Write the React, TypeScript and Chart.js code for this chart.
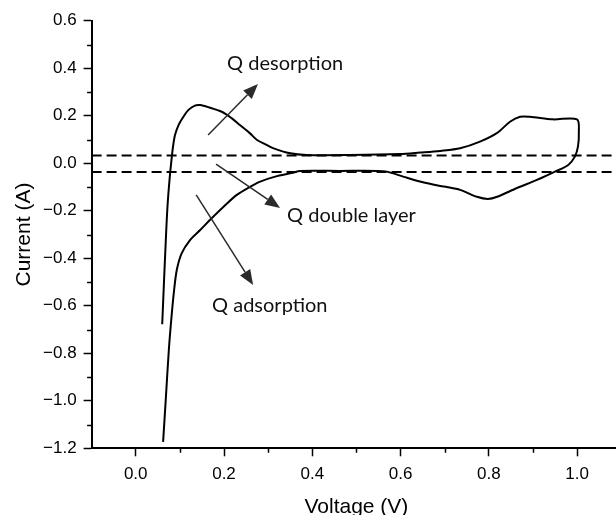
import { useEffect, useRef } from "react";
import { Chart, registerables } from "chart.js";

Chart.register(...registerables);

// Cyclic voltammogram: one closed sweep (anodic branch on top, cathodic below)
const VOLTAGE = [
  0.060, 0.064, 0.068, 0.072, 0.077, 0.082, 0.085, 0.089, 0.097, 0.108,
  0.119, 0.134, 0.146, 0.165, 0.195, 0.218, 0.236, 0.259, 0.275, 0.293,
  0.311, 0.350, 0.387, 0.486, 0.599, 0.644, 0.690, 0.735, 0.780, 0.819,
  0.848, 0.871, 0.893, 0.945, 1.000, 1.004, 1.002, 0.995, 0.980, 0.950,
  0.909, 0.864, 0.819, 0.798, 0.773, 0.735, 0.705, 0.690, 0.644, 0.606,
  0.569, 0.547, 0.463, 0.372, 0.356, 0.316, 0.282, 0.259, 0.229, 0.199,
  0.168, 0.146, 0.123, 0.104, 0.093, 0.087, 0.081, 0.075, 0.068, 0.062,
];
const CURRENT = [
  -0.678, -0.500, -0.330, -0.180, -0.060, 0.031, 0.077, 0.119, 0.161, 0.196,
  0.224, 0.243, 0.245, 0.236, 0.217, 0.189, 0.161, 0.126, 0.098, 0.081,
  0.064, 0.042, 0.035, 0.035, 0.039, 0.045, 0.052, 0.063, 0.091, 0.128,
  0.175, 0.196, 0.196, 0.185, 0.185, 0.128, 0.070, 0.028, -0.007, -0.035,
  -0.070, -0.104, -0.141, -0.150, -0.141, -0.112, -0.100, -0.096, -0.077, -0.056,
  -0.035, -0.032, -0.032, -0.032, -0.040, -0.056, -0.077, -0.099, -0.133, -0.183,
  -0.239, -0.281, -0.323, -0.379, -0.449, -0.533, -0.648, -0.786, -0.996, -1.173,
];

// Double-layer charging baselines
const BASELINE_UPPER = 0.033;
const BASELINE_LOWER = -0.037;

const X_MIN = -0.1;
const X_MAX = 1.1;
const Y_MIN = -1.2;
const Y_MAX = 0.6;
const X_TICKS = [0.0, 0.2, 0.4, 0.6, 0.8, 1.0];
const X_MINOR = [0.1, 0.3, 0.5, 0.7, 0.9];
const Y_TICKS = [-1.2, -1.0, -0.8, -0.6, -0.4, -0.2, 0.0, 0.2, 0.4, 0.6];
const Y_MINOR = [-1.1, -0.9, -0.7, -0.5, -0.3, -0.1, 0.1, 0.3, 0.5];

// Charge-region labels and their pointer arrows (in voltage / current units)
const LABEL_TEXT = ["Q desorption", "Q double layer", "Q adsorption"];
const LABEL_V = [0.207, 0.343, 0.173];
const LABEL_I = [0.419, -0.218, -0.597];
const ARROW_FROM_V = [0.164, 0.182, 0.137];
const ARROW_FROM_I = [0.119, -0.003, -0.133];
const ARROW_TO_V = [0.277, 0.327, 0.266];
const ARROW_TO_I = [0.334, -0.188, -0.512];

const fmt = (v: number) => (v < 0 ? "\u2212" + Math.abs(v).toFixed(1) : v.toFixed(1));

const decorations = {
  id: "decorations",
  afterDraw(chart: any) {
    const { ctx, scales } = chart;
    const xs = scales.x;
    const ys = scales.y;
    ctx.save();
    // minor ticks
    ctx.strokeStyle = "#000";
    ctx.lineWidth = 1.5;
    ctx.beginPath();
    X_MINOR.forEach((v) => {
      const px = Math.round(xs.getPixelForValue(v)) + 0.5;
      ctx.moveTo(px, ys.bottom);
      ctx.lineTo(px, ys.bottom + 4.5);
    });
    Y_MINOR.forEach((v) => {
      const py = Math.round(ys.getPixelForValue(v)) + 0.5;
      ctx.moveTo(xs.left, py);
      ctx.lineTo(xs.left - 4.5, py);
    });
    ctx.stroke();

    // arrows
    ctx.strokeStyle = "#2b2b2b";
    ctx.fillStyle = "#2b2b2b";
    ctx.lineWidth = 1.5;
    for (let i = 0; i < ARROW_FROM_V.length; i++) {
      const x0 = xs.getPixelForValue(ARROW_FROM_V[i]);
      const y0 = ys.getPixelForValue(ARROW_FROM_I[i]);
      const x1 = xs.getPixelForValue(ARROW_TO_V[i]);
      const y1 = ys.getPixelForValue(ARROW_TO_I[i]);
      const ang = Math.atan2(y1 - y0, x1 - x0);
      const headLen = 15;
      const headHalf = 6;
      const bx = x1 - headLen * Math.cos(ang);
      const by = y1 - headLen * Math.sin(ang);
      ctx.beginPath();
      ctx.moveTo(x0, y0);
      ctx.lineTo(bx, by);
      ctx.stroke();
      ctx.beginPath();
      ctx.moveTo(x1, y1);
      ctx.lineTo(bx + headHalf * Math.sin(ang), by - headHalf * Math.cos(ang));
      ctx.lineTo(bx - headHalf * Math.sin(ang), by + headHalf * Math.cos(ang));
      ctx.closePath();
      ctx.fill();
    }

    // labels
    ctx.fillStyle = "#111";
    ctx.font = "20px Lato, 'Open Sans', sans-serif";
    ctx.textAlign = "left";
    ctx.textBaseline = "middle";
    LABEL_TEXT.forEach((t, i) => {
      ctx.fillText(t, xs.getPixelForValue(LABEL_V[i]), ys.getPixelForValue(LABEL_I[i]));
    });
    ctx.restore();
  },
};

export default function App() {
  const ref = useRef<HTMLCanvasElement>(null);

  useEffect(() => {
    const canvas = ref.current;
    if (!canvas) return;
    const tickFont = { family: "'Liberation Sans', Arial, sans-serif", size: 17 };
    const titleFont = { family: "'Liberation Sans', Arial, sans-serif", size: 21 };
    const chart = new Chart(canvas, {
      type: "scatter",
      data: {
        datasets: [
          {
            data: VOLTAGE.map((v, i) => ({ x: v, y: CURRENT[i] })),
            showLine: true,
            borderColor: "#000",
            borderWidth: 2,
            pointRadius: 0,
            tension: 0.3,
          },
          {
            data: [
              { x: X_MIN, y: BASELINE_UPPER },
              { x: X_MAX, y: BASELINE_UPPER },
            ],
            showLine: true,
            borderColor: "#000",
            borderWidth: 2,
            borderDash: [10, 5],
            pointRadius: 0,
          },
          {
            data: [
              { x: X_MIN, y: BASELINE_LOWER },
              { x: X_MAX, y: BASELINE_LOWER },
            ],
            showLine: true,
            borderColor: "#000",
            borderWidth: 2,
            borderDash: [10, 5],
            pointRadius: 0,
          },
        ],
      },
      options: {
        animation: false,
        responsive: false,
        events: [],
        layout: { padding: { left: 0, right: 18.8, top: 20.8, bottom: 0 } },
        plugins: { legend: { display: false }, tooltip: { enabled: false } },
        scales: {
          x: {
            type: "linear",
            min: X_MIN,
            max: X_MAX,
            afterBuildTicks: (s: any) => {
              s.ticks = X_TICKS.map((v) => ({ value: v }));
            },
            afterFit: (s: any) => {
              s.height = 71.7;
            },
            grid: {
              display: true,
              drawOnChartArea: false,
              drawTicks: true,
              tickLength: 8,
              tickWidth: 1.5,
              tickColor: "#000",
            },
            border: { display: true, color: "#000", width: 2 },
            ticks: {
              autoSkip: false,
              maxRotation: 0,
              padding: 8,
              color: "#000",
              font: tickFont,
              callback: (v: any) => fmt(Number(v)),
            },
            title: {
              display: true,
              text: "Voltage (V)",
              color: "#000",
              font: titleFont,
              padding: { top: 0, bottom: 0 },
            },
          },
          y: {
            type: "linear",
            min: Y_MIN,
            max: Y_MAX,
            afterBuildTicks: (s: any) => {
              s.ticks = Y_TICKS.map((v) => ({ value: v }));
            },
            afterFit: (s: any) => {
              s.width = 91.6;
            },
            grid: {
              display: true,
              drawOnChartArea: false,
              drawTicks: true,
              tickLength: 8,
              tickWidth: 1.5,
              tickColor: "#000",
            },
            border: { display: true, color: "#000", width: 2 },
            ticks: {
              autoSkip: false,
              padding: 7,
              color: "#000",
              font: tickFont,
              callback: (v: any) => fmt(Number(v)),
            },
            title: {
              display: true,
              text: "Current (A)",
              color: "#000",
              font: titleFont,
              padding: { top: 12, bottom: 0 },
            },
          },
        },
      },
      plugins: [decorations],
    });
    return () => chart.destroy();
  }, []);

  return (
    <div
      style={{
        position: "fixed",
        left: 0,
        top: 0,
        width: 616,
        height: 515,
        overflow: "hidden",
        background: "#fff",
      }}
    >
      <canvas ref={ref} width={640} height={520} style={{ display: "block" }} />
    </div>
  );
}
